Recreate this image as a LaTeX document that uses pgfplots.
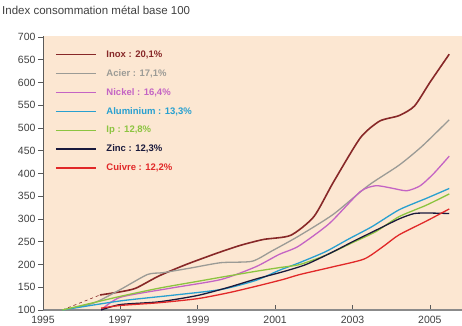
\documentclass[border=0pt]{standalone}
\usepackage{pgfplots}
\pgfplotsset{compat=1.18}
\usepackage{fontspec}
\setmainfont{Liberation Sans}
\definecolor{bgc}{RGB}{252,231,210}
\definecolor{inoxc}{RGB}{135,40,40}
\definecolor{acierc}{RGB}{155,155,150}
\definecolor{nickelc}{RGB}{196,100,196}
\definecolor{aluc}{RGB}{40,160,208}
\definecolor{ipc}{RGB}{140,196,64}
\definecolor{zincc}{RGB}{25,25,60}
\definecolor{cuivrec}{RGB}{225,40,40}
\definecolor{axc}{RGB}{90,90,90}
\begin{document}
\begin{tikzpicture}
\begin{axis}[
  scale only axis,
  width=419pt, height=274pt,
  xmin=1995, xmax=2005.83,
  ymin=100, ymax=702,
  axis background/.style={fill=bgc},
  axis x line*=bottom, axis y line*=left,
  x axis line style={draw=axc!70, line width=1.2pt, -},
  y axis line style={draw=axc, line width=0.8pt, -},
  xtick={1995,1997,1999,2001,2003,2005},
  ytick={100,150,...,700},
  xticklabel style={/pgf/number format/1000 sep={}},
  /pgf/number format/assume math mode=true,
  tick style={draw=axc, line width=0.6pt},
  major tick length=5pt,
  ytick align=outside, xtick align=inside,
  tick label style={font=\fontsize{10.5}{12}\selectfont, text=black!75},
  yticklabel style={xshift=1pt},
  xticklabel style={yshift=-3pt},
  legend cell align=left,
  legend style={at={(axis description cs:0.0286,0.955)}, anchor=north west, draw=none, fill=none, inner sep=0pt,
    font=\fontsize{9.5}{11}\selectfont\bfseries, row sep=6.6pt, column sep=8pt},
  legend image code/.code={\draw[#1, sharp plot, line width=1.3pt] (0pt,0pt) -- (40pt,0pt);},
]
\addplot[inoxc, line width=0.6pt, dashed, forget plot] coordinates {(1995.5,100) (1996.47,133)};
\addplot[inoxc, line width=1.6pt, smooth, tension=0.4] coordinates {
(1996.47,133) (1997,140) (1997.4,148) (1998,175) (1998.7,200) (1999.5,225) (2000.1,242) (2000.7,255) (2001.4,264) (2002,305) (2002.5,380) (2003.2,478) (2003.7,515) (2004.2,527) (2004.6,548) (2005,600) (2005.5,662)};
\addlegendentry{\textcolor{inoxc}{Inox : 20,1\%}}
\addplot[acierc, line width=1.3pt, smooth, tension=0.4] coordinates {
(1995.5,100) (1996.3,115) (1997,145) (1997.7,178) (1998.1,182) (1998.8,192) (1999.6,204) (2000.4,207) (2000.9,229) (2001.6,262) (2002.5,310) (2003.4,373) (2004.2,418) (2004.8,460) (2005.5,518)};
\addlegendentry{\textcolor{acierc}{Acier : 17,1\%}}
\addplot[nickelc, line width=1.3pt, smooth, tension=0.4] coordinates {
(1996.5,100) (1997,128) (1998.3,148) (1999.6,167) (2000.5,195) (2001.1,222) (2001.6,240) (2002.4,290) (2003.2,360) (2003.6,373) (2004,368) (2004.4,362) (2004.75,373) (2005.1,400) (2005.5,438)};
\addlegendentry{\textcolor{nickelc}{Nickel : 16,4\%}}
\addplot[aluc, line width=1.3pt, smooth, tension=0.4] coordinates {
(1995.5,100) (1997,120) (1998.3,132) (1999.6,145) (2000.5,165) (2001.1,187) (2001.6,203) (2002.3,228) (2002.9,256) (2003.5,283) (2004.2,320) (2004.9,345) (2005.5,367)};
\addlegendentry{\textcolor{aluc}{Aluminium : 13,3\%}}
\addplot[ipc, line width=1.3pt, smooth, tension=0.4] coordinates {
(1995.5,100) (1996.5,120) (1997,130) (1998,148) (1999,163) (1999.6,172) (2000.5,185) (2001.1,193) (2001.64,200) (2002.3,220) (2003,248) (2003.6,272) (2004.2,305) (2004.9,330) (2005.5,355)};
\addlegendentry{\textcolor{ipc}{Ip : 12,8\%}}
\addplot[zincc, line width=1.3pt, smooth, tension=0.4] coordinates {
(1996.5,100) (1997,112) (1998,118) (1999,132) (1999.8,150) (2000.5,168) (2001.2,184) (2001.8,200) (2002.5,228) (2003,250) (2003.6,275) (2004.2,300) (2004.6,312) (2005,313) (2005.5,312)};
\addlegendentry{\textcolor{zincc}{Zinc : 12,3\%}}
\addplot[cuivrec, line width=1.3pt, smooth, tension=0.4] coordinates {
(1996.5,104) (1997,110) (1998,116) (1999,125) (1999.8,138) (2000.5,152) (2001.2,167) (2001.64,178) (2002.5,195) (2003.3,212) (2003.8,240) (2004.2,265) (2004.9,295) (2005.5,322)};
\addlegendentry{\textcolor{cuivrec}{Cuivre : 12,2\%}}
\end{axis}
\node[anchor=west, inner sep=0pt, text=black!75, font=\fontsize{11.5}{13}\selectfont] at (-41pt,300pt) {Index consommation métal base 100};
\pgfresetboundingbox
\path (-43pt,-15pt) rectangle (419pt,310pt);
\end{tikzpicture}
\end{document}
